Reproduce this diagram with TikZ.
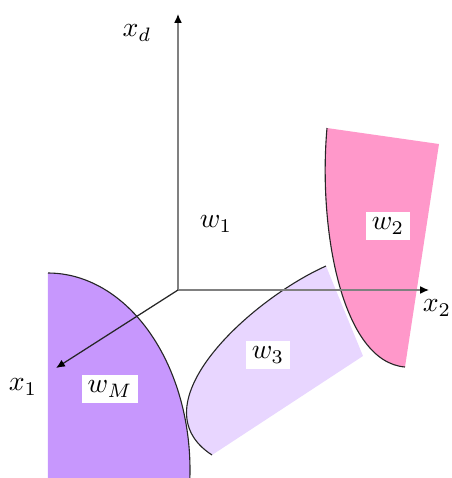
\documentclass[tikz,border=0pt]{standalone}
\usepackage{xcolor}
\usepackage{tikz}
\usetikzlibrary{
  arrows.meta
}
\definecolor{classM}{RGB}{199,151,253}
\definecolor{classTwo}{RGB}{255,152,202}
\definecolor{classThree}{RGB}{232,214,255}
\tikzset{
  axis/.style={
    -{Latex[length=3.2pt, width=2.8pt, color=black]},
    line width=0.45pt,
    draw=black!50,
  },
  rim/.style={
    draw=black!85,
    line width=0.4pt,
  },
  lbl/.style={
    inner sep=2pt,
    font=\normalsize,
  },
  tag/.style={
    lbl,
    fill=white,
  },
}

\begin{document}
\begin{tikzpicture}[
  x=0.36pt, y=-0.36pt,
]
  \useasboundingbox (0,0) rectangle (452,478);

  % --- axis end points ---
  \coordinate (origin) at (178,290);
  \coordinate (xdtip)  at (178,14);
  \coordinate (xtwotip) at (429,290);
  \coordinate (xonetip) at (56,368);

  % --- decision regions ---
  \begin{scope}
    \clip (0,0) rectangle (452,478);
    \fill[classM] (48,273) arc[start angle=-90, end angle=4, x radius=142, y radius=197]
      -- (48,484) -- cycle;
    \draw[rim] (48,273) arc[start angle=-90, end angle=4, x radius=142, y radius=197];
  \end{scope}

  \fill[classThree] (326,266) .. controls (250,300) and (135,405) .. (212,455)
    -- (363,356) -- cycle;
  \draw[rim] (326,266) .. controls (250,300) and (135,405) .. (212,455);

  \fill[classTwo] (327,128) .. controls (318,230) and (342,362) .. (405,367)
    -- (439,144) -- cycle;
  \draw[rim] (327,128) .. controls (318,230) and (342,362) .. (405,367);

  % --- axes ---
  \draw[axis] (origin) -- (xdtip);
  \draw[axis] (origin) -- (xtwotip);
  \draw[axis, draw=black!85] (origin) -- (xonetip);

  % --- labels ---
  \node[lbl] (xdlbl)   at (137,33)  {$x_d$};
  \node[lbl] (xtwolbl) at (437,308) {$x_2$};
  \node[lbl] (xonelbl) at (23,387)  {$x_1$};
  \node[lbl] (wone)    at (216,224) {$w_1$};
  \node[tag] (wtwo)    at (388,226) {$w_2$};
  \node[tag] (wthree)  at (268,355) {$w_3$};
  \node[tag] (wm)      at (110,389) {$w_M$};
\end{tikzpicture}
\end{document}
